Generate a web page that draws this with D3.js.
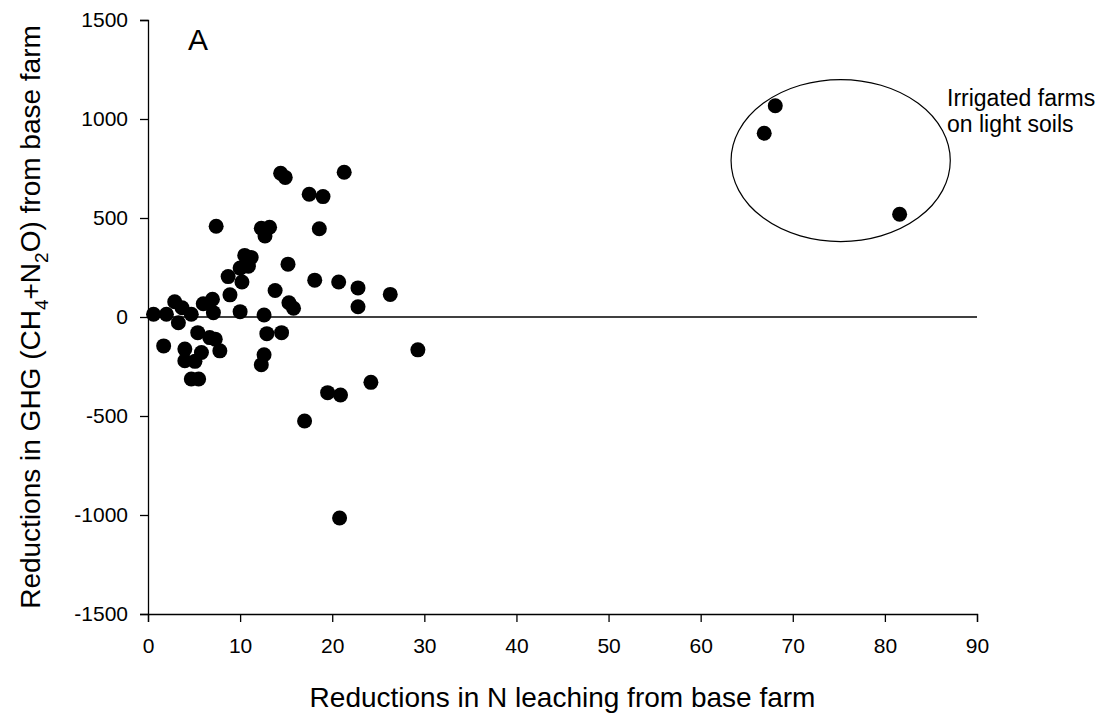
<!DOCTYPE html>
<html>
<head>
<meta charset="utf-8">
<script src="https://cdn.jsdelivr.net/npm/d3@7"></script>
<style>
  html, body { margin: 0; padding: 0; background: #fff; }
  svg { display: block; font-family: "Liberation Sans", Arial, sans-serif; }
</style>
</head>
<body>
<svg id="chart" width="1115" height="717"></svg>
<script>
// Reduction in N leaching (x) and reduction in GHG (y) per farm scenario
const leachingReduction = [
  0.6, 2.0, 1.7, 2.9, 3.3, 3.7, 4.7, 4.0, 4.0, 5.1,
  4.7, 5.5, 5.4, 5.8, 6.0, 7.0, 7.1, 6.7, 7.3, 7.8,
  7.4, 8.7, 8.9, 10.0, 10.2, 10.0, 10.5, 11.2, 10.9, 12.3,
  13.2, 12.7, 12.6, 12.6, 12.3, 12.9, 13.8, 14.5, 14.4, 14.9,
  15.2, 15.3, 15.8, 17.0, 17.5, 18.1, 18.6, 19.0, 19.5, 20.7,
  20.9, 20.8, 21.3, 22.8, 22.8, 24.2, 26.3, 29.3
];
const ghgReduction = [
  14, 14, -146, 77, -29, 47, 14, -162, -221, -224,
  -313, -313, -79, -179, 67, 90, 22, -104, -112, -171,
  458, 204, 112, 27, 177, 247, 311, 301, 256, 448,
  453, 409, 10, -191, -241, -84, 134, -79, 726, 705,
  267, 72, 44, -525, 620, 186, 446, 608, -382, 177,
  -394, -1015, 731, 147, 52, -330, 114, -166
];
// Irrigated farms on light soils
const irrigatedLeaching = [66.9, 68.1, 81.6];
const irrigatedGhg = [928, 1067, 519];

const xTicks = [0, 10, 20, 30, 40, 50, 60, 70, 80, 90];
const yTicks = [-1500, -1000, -500, 0, 500, 1000, 1500];

const svg = d3.select("#chart");

const x = d3.scaleLinear().domain([0, 90]).range([148, 977]);
const y = d3.scaleLinear().domain([-1500, 1500]).range([614, 20]);

// Axes (plain integer labels with an ASCII hyphen for negatives)
const plain = d => String(d);
const xAxis = d3.axisBottom(x).tickValues(xTicks).tickFormat(plain)
  .tickSizeOuter(0).tickSize(8).tickPadding(16);
const yAxis = d3.axisLeft(y).tickValues(yTicks).tickFormat(plain)
  .tickSizeOuter(0).tickSize(8).tickPadding(12);

const gx = svg.append("g").attr("transform", `translate(0,${y(-1500)})`).call(xAxis);
const gy = svg.append("g").attr("transform", `translate(${x(0)},0)`).call(yAxis);

[gx, gy].forEach(g => {
  g.select(".domain").attr("stroke", "#000").attr("stroke-width", 1.3);
  g.selectAll(".tick line").attr("stroke", "#000").attr("stroke-width", 1.3);
  g.selectAll(".tick text")
    .attr("fill", "#000")
    .style("font-size", "21px")
    .style("font-family", "'Liberation Sans', Arial, sans-serif");
});

// Zero reference line
svg.append("line")
  .attr("x1", x(0)).attr("x2", x(90))
  .attr("y1", y(0)).attr("y2", y(0))
  .attr("stroke", "#000").attr("stroke-width", 1.3);

// Points
const pts = leachingReduction.map((v, i) => ({ x: v, y: ghgReduction[i] }))
  .concat(irrigatedLeaching.map((v, i) => ({ x: v, y: irrigatedGhg[i] })));

svg.append("g").selectAll("circle")
  .data(pts)
  .join("circle")
  .attr("cx", d => x(d.x))
  .attr("cy", d => y(d.y))
  .attr("r", 7.5)
  .attr("fill", "#000");

// Ellipse around the irrigated farms
const ellipseCenter = { x: 75.2, y: 790 };
const ellipseRadius = { x: 11.9, y: 409 };
svg.append("ellipse")
  .attr("cx", x(ellipseCenter.x))
  .attr("cy", y(ellipseCenter.y))
  .attr("rx", x(ellipseRadius.x) - x(0))
  .attr("ry", y(0) - y(ellipseRadius.y))
  .attr("fill", "none")
  .attr("stroke", "#000")
  .attr("stroke-width", 1.2);

const note = svg.append("text")
  .attr("x", 947).attr("y", 106)
  .style("font-size", "23px")
  .attr("fill", "#000");
note.append("tspan").attr("x", 947).text("Irrigated farms");
note.append("tspan").attr("x", 947).attr("dy", 26).text("on light soils");

// Panel letter
svg.append("text")
  .attr("x", 188).attr("y", 50)
  .style("font-size", "30px")
  .attr("fill", "#000")
  .text("A");

// Axis titles
svg.append("text")
  .attr("x", x(45)).attr("y", 707)
  .attr("text-anchor", "middle")
  .style("font-size", "28px")
  .attr("fill", "#000")
  .text("Reductions in N leaching from base farm");

const yTitle = svg.append("text")
  .attr("transform", `translate(40,${y(0)}) rotate(-90)`)
  .attr("text-anchor", "middle")
  .style("font-size", "28px")
  .attr("fill", "#000");
yTitle.append("tspan").text("Reductions in GHG (CH");
yTitle.append("tspan").attr("dy", 8).style("font-size", "19px").text("4");
yTitle.append("tspan").attr("dy", -8).text("+N");
yTitle.append("tspan").attr("dy", 8).style("font-size", "19px").text("2");
yTitle.append("tspan").attr("dy", -8).text("O) from base farm");
</script>
</body>
</html>
